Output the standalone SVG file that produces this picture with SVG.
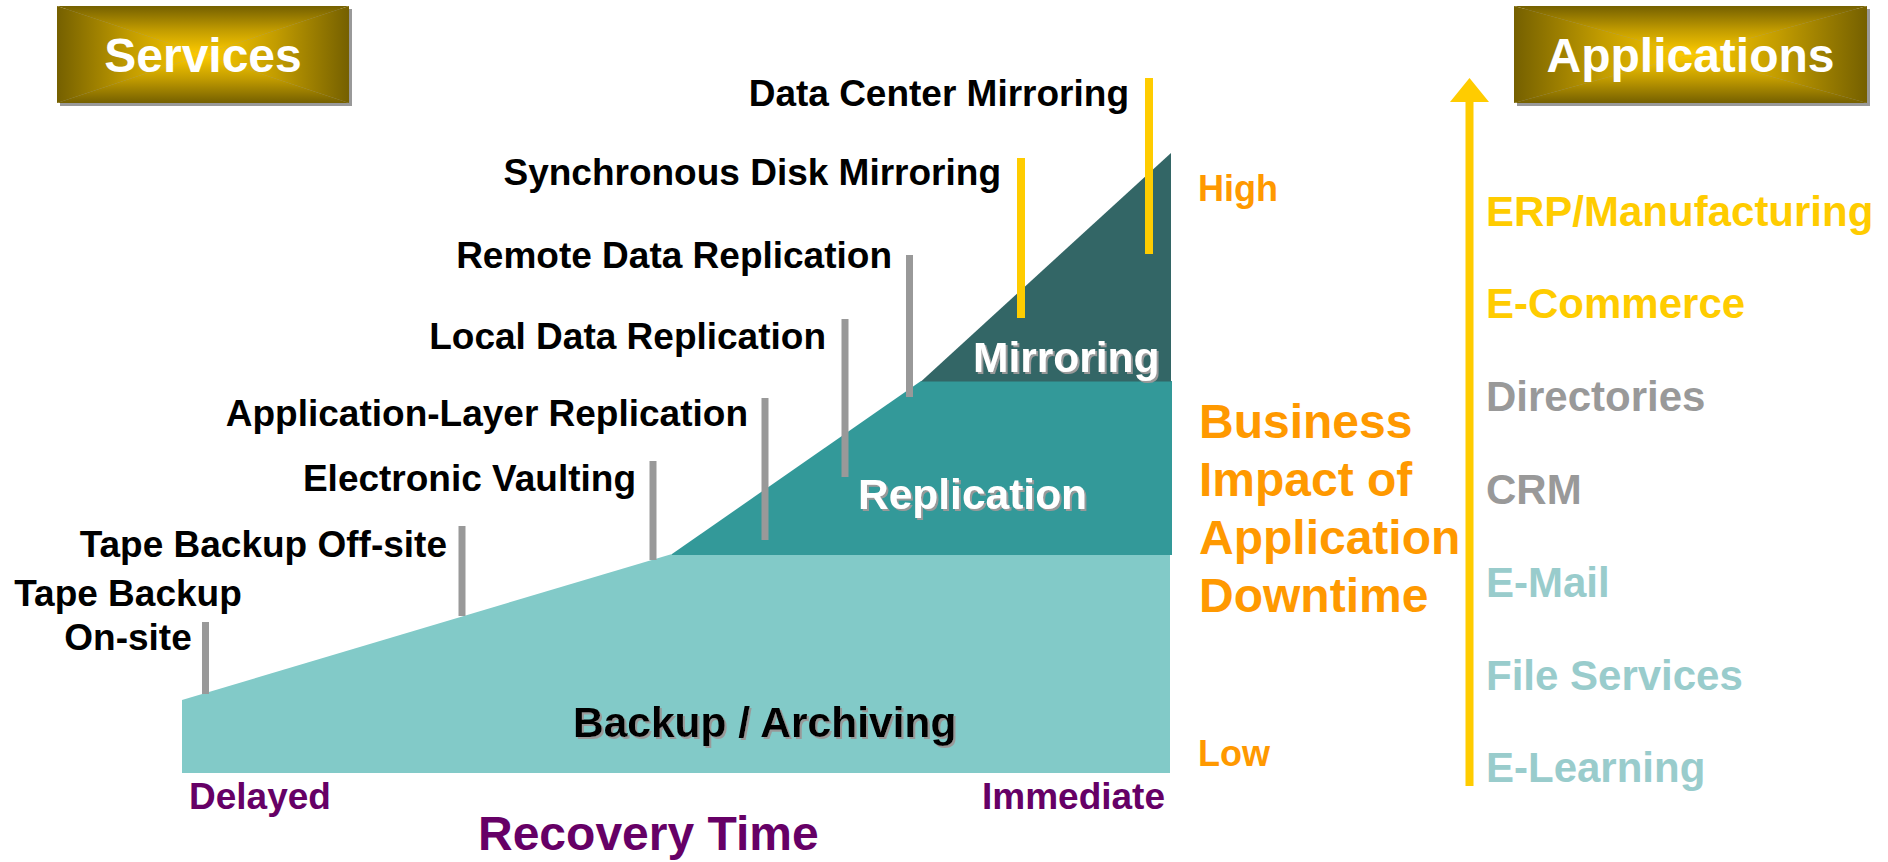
<svg xmlns="http://www.w3.org/2000/svg" width="1888" height="862" viewBox="0 0 1888 862">
  <defs>
    <style>
      text { font-family: "Liberation Sans", Arial, Helvetica, sans-serif; font-weight: bold; }
      .lbl { font-size: 37px; fill: #000000; }
      .band { font-size: 42.5px; }
      .axis { font-size: 37px; fill: #660066; }
      .impact { font-size: 36px; fill: #FF9900; }
      .impact-big { font-size: 48px; fill: #FF9900; }
      .app { font-size: 42px; }
      .hdr { font-size: 48px; fill: #ffffff; text-anchor: middle; }
      .tick-grey { stroke: #999999; stroke-width: 7; }
      .tick-gold { stroke: #FFCC00; stroke-width: 8; }
      .shadow-box { fill: #999999; }
    </style>
    <!-- four-sided "box" gradient: each quadrant fades from the dark rim to the bright centre -->
    <linearGradient id="gTop" x1="0" y1="0" x2="0" y2="1">
      <stop offset="0" stop-color="#756000"/>
      <stop offset="0.5" stop-color="#c29c00"/>
      <stop offset="1" stop-color="#ffcc00"/>
    </linearGradient>
    <linearGradient id="gBottom" x1="0" y1="1" x2="0" y2="0">
      <stop offset="0" stop-color="#756000"/>
      <stop offset="0.5" stop-color="#c29c00"/>
      <stop offset="1" stop-color="#ffcc00"/>
    </linearGradient>
    <linearGradient id="gLeft" x1="0" y1="0" x2="1" y2="0">
      <stop offset="0" stop-color="#756000"/>
      <stop offset="0.5" stop-color="#c29c00"/>
      <stop offset="1" stop-color="#ffcc00"/>
    </linearGradient>
    <linearGradient id="gRight" x1="1" y1="0" x2="0" y2="0">
      <stop offset="0" stop-color="#756000"/>
      <stop offset="0.5" stop-color="#c29c00"/>
      <stop offset="1" stop-color="#ffcc00"/>
    </linearGradient>
    <filter id="txtShadow" x="-5%" y="-20%" width="110%" height="140%">
      <feDropShadow dx="2" dy="2" stdDeviation="0.3" flood-color="#999999" flood-opacity="1"/>
    </filter>
    <marker id="arrowHead" markerUnits="userSpaceOnUse" markerWidth="24" markerHeight="39" viewBox="0 0 24 39" refX="0" refY="19.5" orient="auto">
      <path d="M0,0 L24,19.5 L0,39 Z" fill="#FFCC00"/>
    </marker>
  </defs>

  <rect width="1888" height="862" fill="#ffffff"/>

  <!-- header: Services -->
  <g id="services">
    <rect class="shadow-box" x="60" y="9" width="292" height="97"/>
    <polygon points="57,6 349,6 203,54.5" fill="url(#gTop)"/>
    <polygon points="57,103 349,103 203,54.5" fill="url(#gBottom)"/>
    <polygon points="57,6 57,103 203,54.5" fill="url(#gLeft)"/>
    <polygon points="349,6 349,103 203,54.5" fill="url(#gRight)"/>
    <text class="hdr" x="203" y="72">Services</text>
  </g>

  <!-- header: Applications -->
  <g id="applications">
    <rect class="shadow-box" x="1517" y="9" width="353" height="97"/>
    <polygon points="1514,6 1867,6 1690.5,54.5" fill="url(#gTop)"/>
    <polygon points="1514,103 1867,103 1690.5,54.5" fill="url(#gBottom)"/>
    <polygon points="1514,6 1514,103 1690.5,54.5" fill="url(#gLeft)"/>
    <polygon points="1867,6 1867,103 1690.5,54.5" fill="url(#gRight)"/>
    <text class="hdr" x="1690.5" y="72">Applications</text>
  </g>

  <!-- stacked bands: backup, replication, mirroring -->
  <g id="band-backup">
    <polygon points="182,700 672,554 1170,554 1170,773 182,773" fill="#82CAC8"/>
  </g>
  <g id="band-replication">
    <polygon points="672,554 921,381 1172,381 1172,555 672,555" fill="#339999"/>
  </g>
  <g id="band-mirroring">
    <polygon points="921,381.5 1171,153 1171,381.5" fill="#336666"/>
  </g>

  <!-- service markers -->
  <g id="connectors">
    <line class="tick-grey" x1="205.5" y1="622" x2="205.5" y2="694"/>
    <line class="tick-grey" x1="462" y1="526" x2="462" y2="616"/>
    <line class="tick-grey" x1="653" y1="461" x2="653" y2="560"/>
    <line class="tick-grey" x1="765" y1="398" x2="765" y2="540"/>
    <line class="tick-grey" x1="845" y1="319" x2="845" y2="477"/>
    <line class="tick-grey" x1="909.5" y1="255" x2="909.5" y2="397"/>
    <line class="tick-gold" x1="1021" y1="158" x2="1021" y2="318"/>
    <line class="tick-gold" x1="1149" y1="78" x2="1149" y2="254"/>
    <!-- business impact axis -->
    <line x1="1469.5" y1="786" x2="1469.5" y2="102" stroke="#FFCC00" stroke-width="8" marker-end="url(#arrowHead)"/>
  </g>

  <!-- service labels -->
  <g id="svc-dcm"><text class="lbl" x="1129" y="106" text-anchor="end">Data Center Mirroring</text></g>
  <g id="svc-sdm"><text class="lbl" x="1001" y="185" text-anchor="end">Synchronous Disk Mirroring</text></g>
  <g id="svc-rdr"><text class="lbl" x="892" y="268" text-anchor="end">Remote Data Replication</text></g>
  <g id="svc-ldr"><text class="lbl" x="826" y="349" text-anchor="end">Local Data Replication</text></g>
  <g id="svc-alr"><text class="lbl" x="748" y="426" text-anchor="end">Application-Layer Replication</text></g>
  <g id="svc-ev"><text class="lbl" x="636" y="491" text-anchor="end">Electronic Vaulting</text></g>
  <g id="svc-tbo"><text class="lbl" x="447" y="557" text-anchor="end">Tape Backup Off-site</text></g>
  <g id="svc-tbon">
    <text class="lbl" x="128" y="606" text-anchor="middle">Tape Backup</text>
    <text class="lbl" x="128" y="650" text-anchor="middle">On-site</text>
  </g>

  <!-- band titles -->
  <g id="lbl-mirroring"><text class="band" x="973" y="372" fill="#ffffff" filter="url(#txtShadow)">Mirroring</text></g>
  <g id="lbl-replication"><text class="band" x="858" y="509" fill="#ffffff" filter="url(#txtShadow)">Replication</text></g>
  <g id="lbl-backup"><text class="band" x="573" y="737" fill="#000000" filter="url(#txtShadow)">Backup / Archiving</text></g>

  <!-- recovery-time axis -->
  <g id="axis-time">
    <text class="axis" x="189" y="809">Delayed</text>
    <text class="axis" x="1165" y="809" text-anchor="end">Immediate</text>
    <text class="axis" x="478" y="850" style="font-size:48px">Recovery Time</text>
  </g>

  <!-- business impact scale -->
  <g id="axis-impact">
    <text class="impact" x="1198" y="201">High</text>
    <text class="impact-big" x="1199" y="438">Business</text>
    <text class="impact-big" x="1199" y="496">Impact of</text>
    <text class="impact-big" x="1199" y="554">Application</text>
    <text class="impact-big" x="1199" y="612">Downtime</text>
    <text class="impact" x="1198" y="766">Low</text>
  </g>

  <!-- application list -->
  <g id="app-list">
    <text class="app" x="1486" y="226" fill="#FFCC00">ERP/Manufacturing</text>
    <text class="app" x="1486" y="318" fill="#FFCC00">E-Commerce</text>
    <text class="app" x="1486" y="411" fill="#999999">Directories</text>
    <text class="app" x="1486" y="504" fill="#999999">CRM</text>
    <text class="app" x="1486" y="597" fill="#99CCCC">E-Mail</text>
    <text class="app" x="1486" y="690" fill="#99CCCC">File Services</text>
    <text class="app" x="1486" y="782" fill="#99CCCC">E-Learning</text>
  </g>
</svg>
